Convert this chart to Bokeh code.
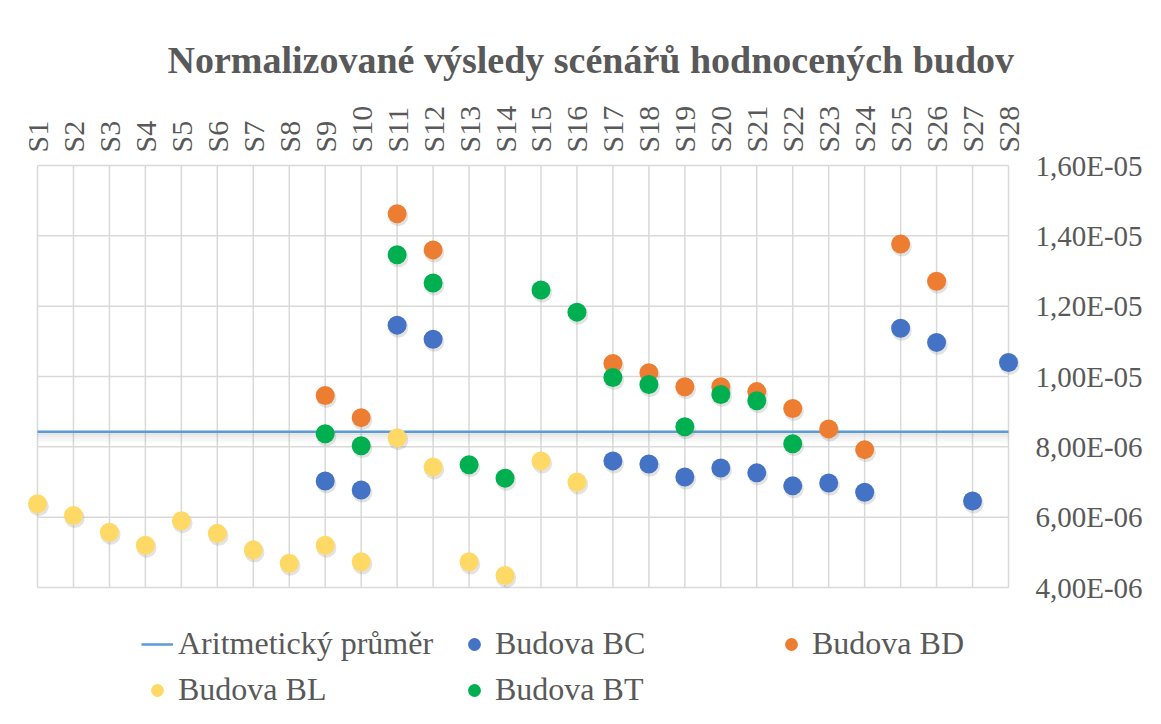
import math
from bokeh.plotting import figure
from bokeh.models import (Range1d, FixedTicker, CustomJSTickFormatter, Legend,
                          LegendItem)
from bokeh.embed import file_html
from bokeh.resources import INLINE

NaN = float("nan")

# ---------------- data ----------------
scenarios = [f"S{i}" for i in range(1, 29)]

budova_bc = [NaN, NaN, NaN, NaN, NaN, NaN, NaN, NaN,
             7.03e-6, 6.77e-6, 1.146e-5, 1.106e-5, NaN, NaN, NaN, NaN,
             7.60e-6, 7.51e-6, 7.14e-6, 7.40e-6, 7.26e-6, 6.89e-6, 6.97e-6, 6.71e-6,
             1.137e-5, 1.097e-5, 6.46e-6, 1.040e-5]
budova_bd = [NaN, NaN, NaN, NaN, NaN, NaN, NaN, NaN,
             9.46e-6, 8.83e-6, 1.463e-5, 1.360e-5, NaN, NaN, NaN, NaN,
             1.037e-5, 1.011e-5, 9.71e-6, 9.71e-6, 9.57e-6, 9.09e-6, 8.51e-6, 7.92e-6,
             1.377e-5, 1.271e-5, NaN, NaN]
budova_bl = [6.38e-6, 6.05e-6, 5.57e-6, 5.20e-6, 5.90e-6, 5.54e-6, 5.07e-6, 4.69e-6,
             5.20e-6, 4.73e-6, 8.26e-6, 7.43e-6, 4.73e-6, 4.34e-6, 7.60e-6, 7.00e-6,
             NaN, NaN, NaN, NaN, NaN, NaN, NaN, NaN, NaN, NaN, NaN, NaN]
budova_bt = [NaN, NaN, NaN, NaN, NaN, NaN, NaN, NaN,
             8.37e-6, 8.03e-6, 1.346e-5, 1.266e-5, 7.49e-6, 7.11e-6, 1.246e-5, 1.183e-5,
             9.97e-6, 9.77e-6, 8.57e-6, 9.49e-6, 9.31e-6, 8.09e-6, NaN, NaN,
             NaN, NaN, NaN, NaN]
mean_value = 8.43e-6

y_ticks = [4e-6, 6e-6, 8e-6, 1.0e-5, 1.2e-5, 1.4e-5, 1.6e-5]

series_names = ["Budova BC", "Budova BD", "Budova BL", "Budova BT"]
series_values = [budova_bc, budova_bd, budova_bl, budova_bt]
series_colors = ["#4472C4", "#ED7D31", "#FFD966", "#00B050"]

TITLE = "Normalizované výsledy scénářů hodnocených budov"
MEAN_LABEL = "Aritmetický průměr"

# ---------------- layout (pixels) ----------------
W, H = 1145, 708
IN_L, IN_R, IN_T, IN_B = 37, 1008, 165, 587     # inner plot area
PAD_X, PAD_Y = 13, 5                              # room so edge dots are not clipped
FR_L, FR_R = IN_L - PAD_X, IN_R + PAD_X
FR_T, FR_B = IN_T - PAD_Y, H                      # frame reaches down to hold the legend

x_pos = list(range(1, len(scenarios) + 1))
x_lo, x_hi = x_pos[0], x_pos[-1]
y_lo, y_hi = y_ticks[0], y_ticks[-1]
px_x = (x_hi - x_lo) / (IN_R - IN_L)
px_y = (y_hi - y_lo) / (IN_B - IN_T)

FONT = "'Liberation Serif', serif"
TXT = "#595959"
GRID = "#d9d9d9"

p = figure(width=W, height=H,
           x_range=Range1d(x_lo - PAD_X * px_x, x_hi + PAD_X * px_x),
           y_range=Range1d(y_lo - (FR_B - IN_B) * px_y, y_hi + PAD_Y * px_y),
           x_axis_location="above", y_axis_location="right",
           output_backend="svg", toolbar_location=None,
           min_border_left=FR_L, min_border_right=W - FR_R,
           min_border_top=FR_T, min_border_bottom=0)

p.background_fill_color = "white"
p.border_fill_color = "white"
p.outline_line_color = None
p.grid.visible = False

# title
p.title.text = TITLE
p.title.text_font = FONT
p.title.text_font_size = "38px"
p.title.text_font_style = "bold"
p.title.text_color = TXT
p.title.align = "left"
p.title.offset = 143
p.title.standoff = 44

# x axis (top)
xa = p.xaxis[0]
xa.ticker = FixedTicker(ticks=x_pos)
xa.major_label_overrides = {x: s for x, s in zip(x_pos, scenarios)}
xa.major_label_orientation = "vertical"
xa.major_label_text_font = FONT
xa.major_label_text_font_size = "30px"
xa.major_label_text_color = TXT
xa.major_label_standoff = 8
xa.major_tick_in = 0
xa.major_tick_out = 0
xa.minor_tick_in = 0
xa.minor_tick_out = 0
xa.axis_line_color = None

# y axis (right)
ya = p.yaxis[0]
ya.ticker = FixedTicker(ticks=y_ticks)
ya.formatter = CustomJSTickFormatter(
    code="return tick.toExponential(2).replace('.', ',').replace(/e([+-])(\\d)$/, 'E$10$2');")
ya.major_label_text_font = FONT
ya.major_label_text_font_size = "29px"
ya.major_label_text_color = TXT
ya.major_label_standoff = 14
ya.major_tick_in = 0
ya.major_tick_out = 0
ya.minor_tick_in = 0
ya.minor_tick_out = 0
ya.axis_line_color = None

# grid lines limited to the inner plot area
p.segment(x0=x_pos, y0=[y_lo] * len(x_pos), x1=x_pos, y1=[y_hi] * len(x_pos),
          line_color=GRID, line_width=1.5)
p.segment(x0=[x_lo] * len(y_ticks), y0=y_ticks, x1=[x_hi] * len(y_ticks), y1=y_ticks,
          line_color=GRID, line_width=1.5)

# mean line with soft shadow
for k, a in [(2, 0.16), (4, 0.12), (6, 0.08), (8, 0.05), (10, 0.03)]:
    p.line([x_lo, x_hi], [mean_value - k * px_y] * 2, line_color="#7f7f7f",
           line_alpha=a, line_width=2.5)
mean_r = p.line([x_lo, x_hi], [mean_value, mean_value], line_color="#5B9BD5",
                line_width=2.5)

# points
items = [LegendItem(label=MEAN_LABEL, renderers=[mean_r])]
for name, vals, col in zip(series_names, series_values, series_colors):
    xs = [x for x, v in zip(x_pos, vals) if not math.isnan(v)]
    ys = [v for v in vals if not math.isnan(v)]
    p.scatter([x + 1.2 * px_x for x in xs], [y - 2.5 * px_y for y in ys],
              size=20, fill_color="#808080", fill_alpha=0.22, line_color=None)
    r = p.scatter(xs, ys, size=19, fill_color=col, line_color=None)
    items.append(LegendItem(label=name, renderers=[r]))

legend = Legend(items=items, orientation="horizontal", ncols=3,
                location=(141 - FR_L, 0))
legend.label_text_font = FONT
legend.label_text_font_size = "32px"
legend.label_text_color = TXT
legend.glyph_width = 32
legend.glyph_height = 36
legend.label_height = 36
legend.label_width = 271
legend.label_standoff = 5
legend.spacing = 9
legend.padding = 0
legend.margin = 0
legend.border_line_color = None
legend.background_fill_alpha = 0
p.add_layout(legend)

open("out.html", "w").write(file_html(p, INLINE))
